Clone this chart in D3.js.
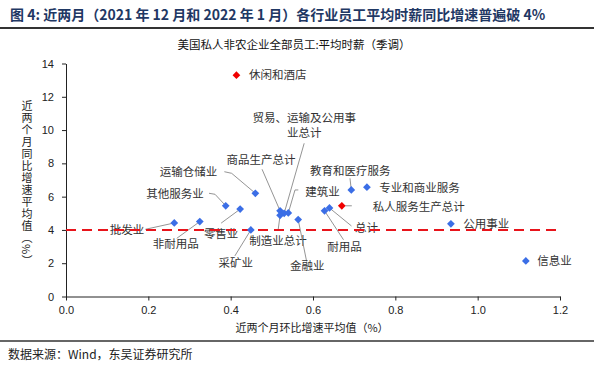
<!DOCTYPE html>
<html>
<head>
<meta charset="utf-8">
<script src="https://cdn.jsdelivr.net/npm/d3@7"></script>
<style>
	body { margin: 0; background: #fff; }
	svg { display: block; }
	text { font-family: "Noto Sans CJK SC", sans-serif; }
	.tick text { font-family: "Liberation Sans", Arial, sans-serif; font-size: 11px; fill: #222; }
	.domain, .tick line { stroke: #222; }
</style>
</head>
<body>
<svg width="594" height="367"></svg>
<script>
// 行业名称与数值（环比均值, 同比均值），取自图中读数
const industries = ["休闲和酒店", "运输仓储业", "其他服务业", "零售业", "批发业", "非耐用品", "采矿业",
	"商品生产总计", "贸易、运输及公用事业总计", "制造业总计", "建筑业", "金融业", "耐用品", "总计",
	"私人服务生产总计", "教育和医疗服务", "专业和商业服务", "公用事业", "信息业"];
const momAvg = [0.414, 0.460, 0.388, 0.423, 0.263, 0.325, 0.449,
	0.520, 0.530, 0.520, 0.540, 0.564, 0.628, 0.640,
	0.670, 0.693, 0.731, 0.935, 1.117];
const yoyAvg = [13.3, 6.2, 5.45, 5.25, 4.42, 4.5, 4.0,
	5.15, 5.0, 4.88, 5.02, 4.62, 5.15, 5.32,
	5.45, 6.4, 6.57, 4.37, 2.14];
const highlighted = ["休闲和酒店", "私人服务生产总计"];
const xTicks = [0, 0.2, 0.4, 0.6, 0.8, 1.0, 1.2];
const yTicks = [0, 2, 4, 6, 8, 10, 12, 14];
const threshold = 4;

// 标注位置：相对数据点的偏移 [dx, dy, anchor, 引线折点...]
const labelLayout = {
	"休闲和酒店": { dx: 12.6, dy: 0, anchor: "start", lead: [] },
	"运输仓储业": { dx: -38, dy: -21, anchor: "end", lead: [[-23.7, -20], [-31, -21.6]] },
	"其他服务业": { dx: -22, dy: -12, anchor: "end", lead: [[-10.7, -11.5], [-16.7, -12.5]] },
	"零售业": { dx: -19, dy: 25, anchor: "middle", lead: [[-19, 14]] },
	"批发业": { dx: -30, dy: 7, anchor: "end", lead: [[-29, 6.4]] },
	"非耐用品": { dx: -24, dy: 22, anchor: "middle", lead: [[-23, 16.7]] },
	"采矿业": { dx: -15, dy: 33, anchor: "middle", lead: [[-16, 26]] },
	"商品生产总计": { dx: -19, dy: -51, anchor: "middle", lead: [[-18, -41.5]] },
	"贸易、运输及公用事业总计": { dx: 20, dy: -95, anchor: "middle", lines: ["贸易、运输及公用事", "业总计"], lead: [[20, -70]] },
	"制造业总计": { dx: -2, dy: 25.5, anchor: "middle", lead: [[-1.8, 13.7]] },
	"建筑业": { dx: 17, dy: -21, anchor: "start", lead: [[6.7, -23], [10, -23]] },
	"金融业": { dx: 9, dy: 46, anchor: "middle", lead: [[8.5, 42]] },
	"耐用品": { dx: 20, dy: 36.5, anchor: "middle", lead: [[19, 29]] },
	"总计": { dx: 25.5, dy: 20, anchor: "start", lead: [[22, 18]] },
	"私人服务生产总计": { dx: 31, dy: 1, anchor: "start", lead: [[3.5, 0], [10, 0]], noPoint: true },
	"教育和医疗服务": { dx: -1, dy: -19, anchor: "middle", lead: [[-1.3, -11.7]] },
	"专业和商业服务": { dx: 12.4, dy: 1, anchor: "start", lead: [] },
	"公用事业": { dx: 12.4, dy: 0, anchor: "start", lead: [] },
	"信息业": { dx: 11.5, dy: 0, anchor: "start", lead: [] }
};

let svg = d3.select("svg"),
	width = +svg.attr("width");

let data = industries.map((name, i) => ({
	name: name,
	x: momAvg[i],
	y: yoyAvg[i],
	red: highlighted.includes(name)
}));

let x = d3.scaleLinear().domain([0, 1.2]).range([66, 560]);
let y = d3.scaleLinear().domain([0, 14]).range([296.5, 63.5]);

// 标题
svg.append("text")
	.attr("x", 10)
	.attr("y", 15)
	.attr("dy", "0.35em")
	.attr("fill", "#1f3864")
	.style("font-size", "14px")
	.style("font-weight", "bold")
	.text("图 4:  近两月（2021 年 12 月和 2022 年 1 月）各行业员工平均时薪同比增速普遍破 4%");

svg.append("line")
	.attr("x1", 0).attr("x2", width)
	.attr("y1", 28).attr("y2", 28)
	.attr("stroke", "#333")
	.attr("stroke-width", 2);

svg.append("text")
	.attr("x", 294)
	.attr("y", 45)
	.attr("dy", "0.35em")
	.attr("text-anchor", "middle")
	.attr("fill", "#111")
	.style("font-size", "11.5px")
	.text("美国私人非农企业全部员工:平均时薪（季调）");

// 坐标轴
svg.append("g")
	.attr("transform", "translate(0," + y(0) + ")")
	.call(d3.axisBottom(x).tickValues(xTicks).tickFormat(d3.format(".1f")).tickSize(4).tickSizeOuter(0).tickPadding(6));

svg.append("g")
	.attr("transform", "translate(" + x(0) + ",0)")
	.call(d3.axisLeft(y).tickValues(yTicks).tickSize(4).tickSizeOuter(0).tickPadding(8));

svg.append("text")
	.attr("x", 312)
	.attr("y", 328)
	.attr("dy", "0.35em")
	.attr("text-anchor", "middle")
	.attr("fill", "#222")
	.style("font-size", "11px")
	.text("近两个月环比增速平均值（%）");

svg.append("text")
	.attr("x", 27)
	.attr("y", 100)
	.attr("fill", "#222")
	.style("font-size", "11px")
	.style("letter-spacing", "1px")
	.style("writing-mode", "vertical-rl")
	.style("text-orientation", "mixed")
	.text("近两个月同比增速平均值（%）");

// 引线与标注
let labels = svg.append("g").attr("class", "labels");

data.forEach(d => {
	let lay = labelLayout[d.name];
	let px = x(d.x), py = y(d.y);
	if (lay.lead.length) {
		let pts = [[px, py]].concat(lay.lead.map(p => [px + p[0], py + p[1]]));
		if (lay.noPoint) pts.shift();
		labels.append("path")
			.attr("d", d3.line()(pts))
			.attr("fill", "none")
			.attr("stroke", "#888")
			.attr("stroke-width", 0.9);
	}
	let lines = lay.lines || [d.name];
	lines.forEach((t, j) => {
		labels.append("text")
			.attr("x", px + lay.dx)
			.attr("y", py + lay.dy + j * 15)
			.attr("dy", "0.35em")
			.attr("text-anchor", lay.anchor)
			.attr("fill", "#333")
			.style("font-size", "11.5px")
			.text(t);
	});
});

// 4% 参考线
svg.append("line")
	.attr("x1", x(0)).attr("x2", 556)
	.attr("y1", y(threshold)).attr("y2", y(threshold))
	.attr("stroke", "#e8141b")
	.attr("stroke-width", 2)
	.attr("stroke-dasharray", "10,6");

// 散点
svg.append("g")
	.attr("class", "points")
	.selectAll("path")
	.data(data)
	.enter().append("path")
	.attr("d", d3.symbol().type(d3.symbolSquare).size(30))
	.attr("transform", d => "translate(" + x(d.x) + "," + y(d.y) + ") rotate(45)")
	.attr("fill", d => d.red ? "#f00000" : "#3b6ee6");

// 来源
svg.append("line")
	.attr("x1", 0).attr("x2", width)
	.attr("y1", 341).attr("y2", 341)
	.attr("stroke", "#333")
	.attr("stroke-width", 1.5);

svg.append("text")
	.attr("x", 8)
	.attr("y", 355)
	.attr("dy", "0.35em")
	.attr("fill", "#222")
	.style("font-size", "12px")
	.text("数据来源：Wind，东吴证券研究所");
</script>
</body>
</html>
